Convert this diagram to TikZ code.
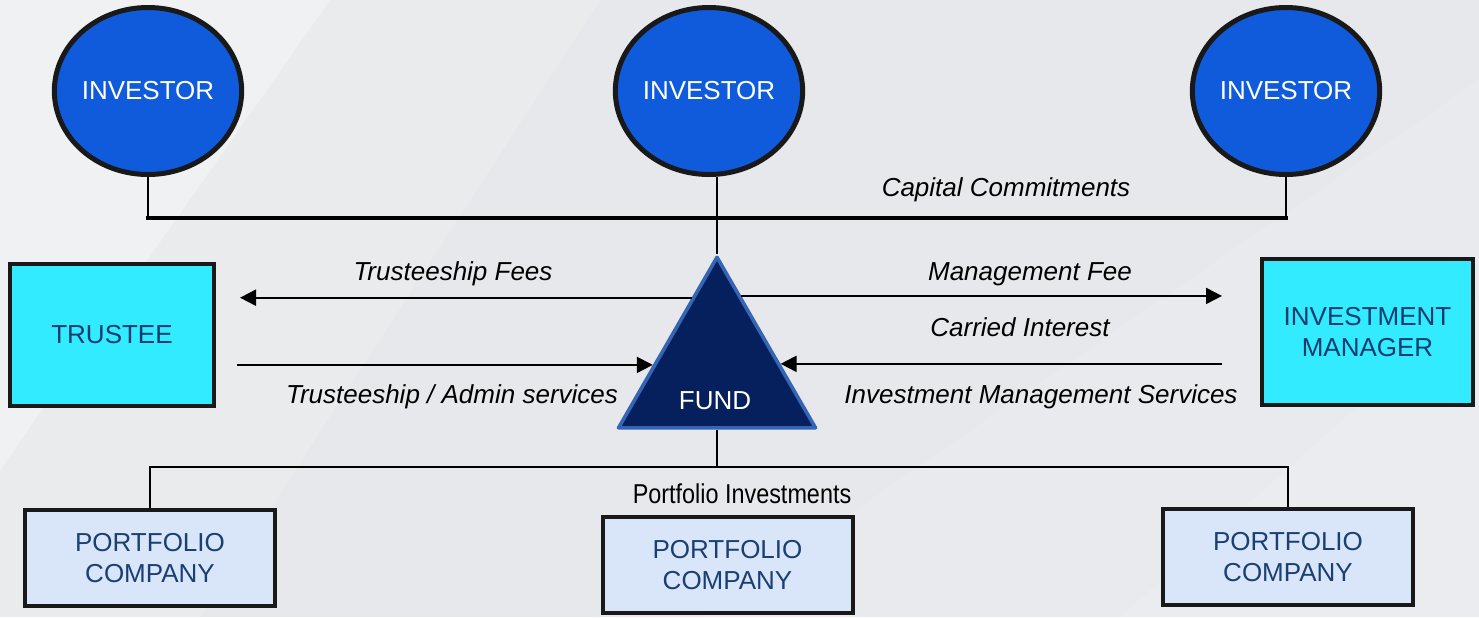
\documentclass[tikz,border=0pt]{standalone}
\usepackage{fontspec}
\setmainfont{Liberation Sans}
\usetikzlibrary{shapes.geometric,calc,shadows,arrows.meta}

\definecolor{bgbase}{HTML}{E6E8EB}
\definecolor{investorblue}{HTML}{0F5BDB}
\definecolor{cyanbox}{HTML}{33EBFF}
\definecolor{boxtext}{HTML}{0D3C6E}
\definecolor{pcfill}{HTML}{D9E6FA}
\definecolor{pctext}{HTML}{1A3F73}
\definecolor{fundfill}{HTML}{06205E}
\definecolor{fundedge}{HTML}{3565B5}

\tikzset{
  base font/.style={font=\fontsize{13}{15.6}\selectfont},
  investor/.style={ellipse, draw=black!90, line width=2.5pt, fill=investorblue,
    minimum width=87.5pt, minimum height=83.5pt, inner sep=0pt,
    text=white, base font},
  rolebox/.style={rectangle, draw=black!90, line width=2pt, fill=cyanbox,
    inner sep=0pt, text=boxtext, align=center, base font,
    drop shadow={opacity=0.2, shadow xshift=1.2pt, shadow yshift=-1.2pt}},
  pcbox/.style={rectangle, draw=black!90, line width=2pt, fill=pcfill,
    minimum width=125pt, minimum height=48pt, inner sep=0pt,
    text=pctext, align=center, base font,
    drop shadow={opacity=0.2, shadow xshift=1.2pt, shadow yshift=-1.2pt}},
  flowlabel/.style={font=\fontsize{13}{15.6}\selectfont\itshape, text=black, inner sep=0pt},
  thin link/.style={draw=black, line width=1pt},
  thick link/.style={draw=black, line width=2pt},
  flow/.style={draw=black, line width=1pt, -{Triangle[length=8pt, width=8pt]}},
}

\begin{document}
\begin{tikzpicture}[x=0.5pt, y=-0.5pt]
  % canvas and soft diagonal light bands
  \useasboundingbox (0,0) rectangle (1479,617);
  \fill[bgbase] (0,0) rectangle (1479,617);
  \fill[white, opacity=0.4] (0,0) -- (330,0) -- (0,470) -- cycle;
  \fill[white, opacity=0.15] (330,0) -- (600,0) -- (200,617) -- (0,617) -- (0,470) -- cycle;
  \fill[white, opacity=0.2] (1479,300) -- (1479,617) -- (1120,617) -- cycle;
  \fill[white, opacity=0.1] (700,617) -- (1479,80) -- (1479,300) -- (1120,617) -- cycle;

  % investors
  \node[investor] (inv1) at (148,91) {INVESTOR};
  \node[investor] (inv2) at (709,91) {INVESTOR};
  \node[investor] (inv3) at (1286,91) {INVESTOR};

  % fund
  \node[regular polygon, regular polygon sides=3, minimum size=113.7pt, inner sep=0pt,
        fill=fundfill, draw=fundedge, line width=1.8pt, line join=round] (fund) at (717,371) {};
  \node[text=white, base font, inner sep=0pt] (fundlabel) at (715,401) {FUND};

  % trustee and manager
  \node[rolebox, minimum width=102pt, minimum height=71pt] (trustee) at (112,335) {TRUSTEE};
  \node[rolebox, minimum width=105.5pt, minimum height=73pt] (manager) at (1367.5,332) {INVESTMENT\\[0pt]MANAGER};

  % portfolio companies
  \node[pcbox] (pc1) at (150,558) {PORTFOLIO\\[0pt]COMPANY};
  \node[pcbox] (pc2) at (727.5,565) {PORTFOLIO\\[0pt]COMPANY};
  \node[pcbox] (pc3) at (1288,557) {PORTFOLIO\\[0pt]COMPANY};

  % capital commitments bus
  \coordinate (capbus) at (0,218);
  \draw[thin link] (inv1.south) -- (inv1.south |- capbus);
  \draw[thin link] (inv3.south) -- (inv3.south |- capbus);
  \draw[thin link] (fund.corner 1 |- inv2.south) -- (fund.corner 1);
  \draw[thick link, line cap=rect] (inv1.south |- capbus) -- (inv3.south |- capbus);
  \node[flowlabel] (caplabel) at (1006,190) {Capital Commitments};

  % fee and service flows
  \coordinate (tfee) at ($(fund.corner 1)!0.25!(fund.corner 2)$);
  \coordinate (mfee) at ($(fund.corner 1)!0.24!(fund.corner 3)$);
  \coordinate (tsvc) at ($(fund.corner 1)!0.632!(fund.corner 2)$);
  \coordinate (msvc) at ($(fund.corner 1)!0.626!(fund.corner 3)$);
  \draw[flow] (tfee) -- ([xshift=12pt]trustee.east |- tfee);
  \draw[flow] (mfee) -- ([xshift=-19pt]manager.west |- mfee);
  \draw[flow] ([xshift=10.5pt]trustee.east |- tsvc) -- (tsvc);
  \draw[flow] ([xshift=-19pt]manager.west |- msvc) -- (msvc);

  \node[flowlabel] (tfeelabel) at (453,274) {Trusteeship Fees};
  \node[flowlabel] (mfeelabel) at (1030,274) {Management Fee};
  \node[flowlabel] (carrylabel) at (1020,327) {Carried Interest};
  \node[flowlabel] (tsvclabel) at (452,397) {Trusteeship / Admin services};
  \node[flowlabel] (msvclabel) at (1041,397) {Investment Management Services};

  % portfolio investments bus
  \coordinate (fundbase) at ($(fund.corner 2)!0.5!(fund.corner 3)$);
  \coordinate (pcbus) at (0,467);
  \draw[thin link] (fundbase) -- (fundbase |- pcbus);
  \draw[thin link] (pc1.north) -- (pc1.north |- pcbus) -- (pc3.north |- pcbus) -- (pc3.north);
  \node[inner sep=0pt, text=black] (pilabel) at (742,494)
    {\scalebox{0.9}[1.05]{\fontsize{13}{15.6}\selectfont Portfolio Investments}};
\end{tikzpicture}
\end{document}
